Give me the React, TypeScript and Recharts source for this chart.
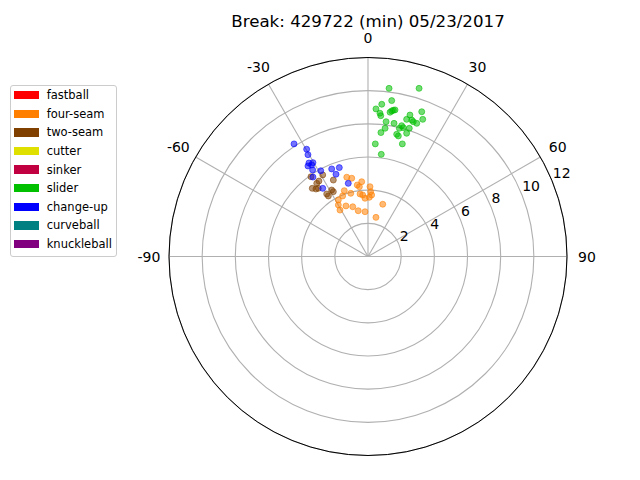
import {
  PolarAngleAxis,
  PolarGrid,
  PolarRadiusAxis,
  Radar,
  RadarChart,
  Scatter,
  ScatterChart,
  XAxis,
  YAxis,
} from "recharts";

const TITLE = "Break: 429722 (min) 05/23/2017";

const PITCH_TYPES = [
  "fastball",
  "four-seam",
  "two-seam",
  "cutter",
  "sinker",
  "slider",
  "change-up",
  "curveball",
  "knuckleball",
];
const PITCH_COLORS = [
  "#ff0000",
  "#ff8000",
  "#804000",
  "#e0e000",
  "#c00040",
  "#00c000",
  "#0000ff",
  "#008080",
  "#800080",
];

// break components per pitch: [horizontal, vertical]
const FOUR_SEAM: [number, number][] = [
  [-1.28, 4.78], [-0.98, 4.72], [-0.65, 4.31], [-0.38, 4.51], [-0.52, 4.21],
  [0.12, 4.21], [0.16, 3.91], [0.22, 3.71], [-0.32, 3.71], [-0.48, 3.77],
  [-0.18, 3.51], [-1.04, 3.81], [-1.43, 3.97], [-1.53, 3.65], [-1.79, 3.41],
  [-1.79, 3.11], [-1.69, 2.8], [-1.33, 3.05], [-0.92, 3.0], [-0.59, 2.76],
  [-0.18, 2.7], [0.89, 3.15], [0.48, 2.36], [0.08, 3.57],
];
const TWO_SEAM: [number, number][] = [
  [-3.44, 4.81], [-2.73, 4.92], [-2.96, 4.55], [-2.09, 4.61], [-3.09, 4.41],
  [-3.36, 4.11], [-3.14, 4.07], [-3.0, 4.11], [-2.49, 3.77], [-2.39, 3.65],
  [-2.19, 4.01], [-2.09, 3.91],
];
const SLIDER: [number, number][] = [
  [1.27, 10.14], [3.08, 10.14], [1.43, 9.4], [0.48, 8.9], [0.83, 9.18],
  [0.72, 8.64], [0.77, 8.49], [1.43, 8.78], [1.63, 8.84], [1.33, 8.7],
  [1.53, 8.82], [3.24, 8.73], [2.53, 8.53], [2.33, 8.27], [3.3, 8.27],
  [2.73, 8.13], [2.94, 8.03], [2.64, 8.23], [1.09, 8.13], [1.57, 8.03],
  [2.03, 7.89], [2.13, 7.77], [1.89, 7.73], [1.03, 7.73], [2.49, 7.73],
  [1.73, 7.37], [1.83, 7.27], [2.33, 7.43], [0.78, 7.47], [0.44, 6.79],
  [2.07, 6.79], [0.8, 6.16],
];
const CHANGE_UP: [number, number][] = [
  [-4.46, 6.79], [-3.7, 6.47], [-3.62, 6.14], [-3.56, 5.64], [-3.4, 5.52],
  [-3.32, 5.66], [-3.62, 5.46], [-3.34, 5.22], [-2.85, 5.17], [-2.19, 5.28],
  [-1.73, 5.36], [-1.93, 4.96], [-1.19, 4.41], [-2.73, 4.11], [-3.32, 4.79],
];

const PITCHES: Record<string, [number, number][]> = {
  "four-seam": FOUR_SEAM,
  "two-seam": TWO_SEAM,
  slider: SLIDER,
  "change-up": CHANGE_UP,
};

// theta axis: 0 at top, clockwise
const ANGLE_STEPS = [0, 30, 60, 90, 120, 150, 180, 210, 240, 270, 300, 330];
const ANGLE_TICKS = [-90, -60, -30, 0, 30, 60, 90];
const RADIUS_TICKS = [2, 4, 6, 8, 10, 12];
const R_MAX = 12;

const W = 640;
const H = 480;
const CX = 368;
const CY = 256.5;
const OUTER = 199;
const FONT = "DejaVu Sans, sans-serif";
const GRID = "#b0b0b0";

const angleData = ANGLE_STEPS.map((a) => ({ angle: a, zero: 0 }));

function thetaLabel(v: number) {
  const t = v > 180 ? v - 360 : v;
  return ANGLE_TICKS.includes(t) ? String(t) : null;
}

function AngleTick({ x, y, payload }: any) {
  const label = thetaLabel(payload.value);
  if (label === null) return <g />;
  return (
    <text x={x} y={y} textAnchor="middle" dominantBaseline="central" fontSize={14} fontFamily={FONT} fill="#000">
      {label}
    </text>
  );
}

function RadiusTick({ x, y, payload }: any) {
  if (!RADIUS_TICKS.includes(payload.value)) return <g />;
  return (
    <text x={x + 1} y={y - 2.5} textAnchor="start" fontSize={14} fontFamily={FONT} fill="#000">
      {payload.value}
    </text>
  );
}

function Dot({ cx, cy, fill }: any) {
  return <circle cx={cx} cy={cy} r={3} fill={fill} fillOpacity={0.55} stroke={fill} strokeOpacity={0.55} strokeWidth={1} />;
}

export default function App() {
  return (
    <div style={{ position: "absolute", left: 0, top: 0, width: W, height: H, background: "#fff", fontFamily: FONT }}>
      <div
        style={{
          position: "absolute",
          left: 0,
          width: W,
          top: 15.7,
          height: 12,
          textAlign: "center",
          paddingLeft: 2 * CX - W,
          boxSizing: "border-box",
          fontSize: 16.67,
          lineHeight: "12px",
          color: "#000",
        }}
      >
        {TITLE}
      </div>

      <div style={{ position: "absolute", left: 0, top: 0 }}>
        <RadarChart
          width={W}
          height={H}
          data={angleData}
          cx={CX}
          cy={CY}
          outerRadius={OUTER}
          startAngle={90}
          endAngle={-270}
          margin={{ top: 0, right: 0, bottom: 0, left: 0 }}
        >
          <PolarGrid
            gridType="circle"
            stroke={GRID}
            strokeWidth={1.1}
            polarAngles={ANGLE_TICKS.map((t) => 90 - t)}
          />
          <PolarAngleAxis
            dataKey="angle"
            axisLineType="circle"
            stroke="#000"
            tickLine={false}
            tickSize={20}
            tick={AngleTick}
          />
          <PolarRadiusAxis
            type="number"
            domain={[0, R_MAX]}
            tickCount={7}
            angle={22.5}
            axisLine={false}
            tickLine={false}
            tick={RadiusTick}
          />
          <Radar dataKey="zero" stroke="none" fill="none" dot={false} isAnimationActive={false} />
        </RadarChart>
      </div>

      <div style={{ position: "absolute", left: 0, top: 0 }}>
        <ScatterChart
          width={W}
          height={H}
          margin={{ top: CY - OUTER, right: W - CX - OUTER, bottom: H - CY - OUTER, left: CX - OUTER }}
        >
          <XAxis type="number" dataKey="x" domain={[-R_MAX, R_MAX]} hide allowDataOverflow />
          <YAxis type="number" dataKey="y" domain={[-R_MAX, R_MAX]} hide allowDataOverflow />
          {PITCH_TYPES.map((name, i) => (
            <Scatter
              key={name}
              name={name}
              data={(PITCHES[name] ?? []).map(([x, y]) => ({ x, y }))}
              fill={PITCH_COLORS[i]}
              shape={Dot}
              isAnimationActive={false}
            />
          ))}
        </ScatterChart>
      </div>

      <div
        style={{
          position: "absolute",
          left: 9.5,
          top: 84.5,
          width: 107.5,
          height: 172,
          border: "1px solid #cccccc",
          borderRadius: 3,
          boxSizing: "border-box",
          background: "#fff",
        }}
      />
      {PITCH_TYPES.map((name, i) => {
        const c = 95.2 + 18.6 * i;
        return (
          <div key={name}>
            <div
              style={{
                position: "absolute",
                left: 13.5,
                top: c - 4.2,
                width: 25,
                height: 8.4,
                background: PITCH_COLORS[i],
              }}
            />
            <div
              style={{
                position: "absolute",
                left: 46.7,
                top: c - 6,
                height: 12,
                lineHeight: "12px",
                fontSize: 11.5,
                color: "#000",
                whiteSpace: "nowrap",
              }}
            >
              {name}
            </div>
          </div>
        );
      })}
    </div>
  );
}
